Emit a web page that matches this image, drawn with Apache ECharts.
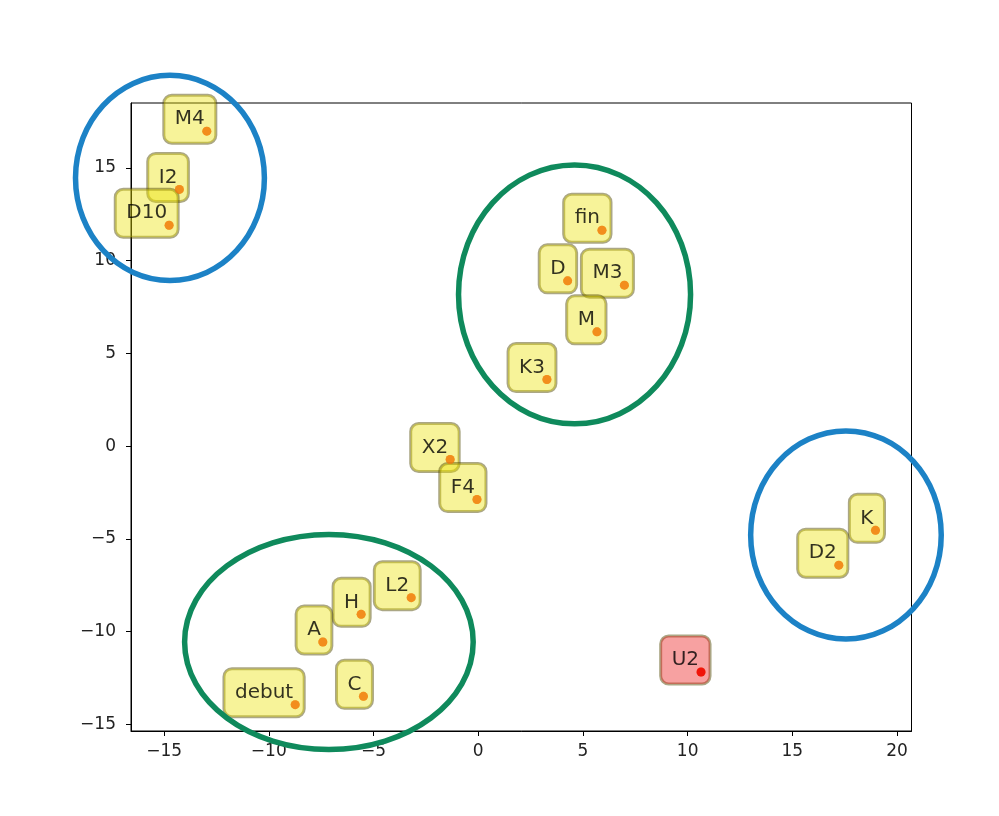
<!DOCTYPE html>
<html>
<head>
<meta charset="utf-8">
<script src="https://cdn.jsdelivr.net/npm/echarts@6/dist/echarts.min.js"></script>
<style>html,body{margin:0;padding:0;background:#fff;}#c{width:999px;height:816px;}</style>
</head>
<body>
<div id="c"></div>
<script>
const names = ['M4','I2','D10','fin','D','M3','M','K3','X2','F4','L2','H','A','C','debut','K','D2','U2'];
const xs = [-12.96,-14.27,-14.76,5.91,4.27,6.98,5.67,3.28,-1.34,-0.06,-3.20,-5.59,-7.42,-5.48,-8.74,18.97,17.22,10.64];
const ys = [16.98,13.84,11.91,11.64,8.91,8.68,6.16,3.59,-0.72,-2.88,-8.17,-9.07,-10.56,-13.49,-13.94,-4.54,-6.42,-12.18];
const highlighted = ['U2'];
const xTicks = [-15,-10,-5,0,5,10,15,20];
const yTicks = [-15,-10,-5,0,5,10,15];
const ellipseCx = [-14.72, 4.60, -7.13, 17.56];
const ellipseCy = [14.46, 8.18, -10.56, -4.79];
const ellipseRx = [4.51, 5.54, 6.89, 4.55];
const ellipseRy = [5.53, 6.98, 5.80, 5.61];
const ellipseColors = ['#1c82c6', '#0f8a5c', '#0f8a5c', '#1c82c6'];

const chart = echarts.init(document.getElementById('c'), null, {renderer: 'canvas'});
const fmt = v => String(v).replace('-', '\u2212');
const FONT = 'DejaVu Sans';

const labelData = names.map((n, i) => {
  const hi = highlighted.includes(n);
  return {
    value: [xs[i], ys[i]],
    name: n,
    label: hi ? {backgroundColor: 'rgba(235,20,20,0.5)'} : undefined
  };
});
const dotData = names.map((n, i) => ({
  value: [xs[i], ys[i]],
  itemStyle: {color: highlighted.includes(n) ? '#f00000' : '#f2821a'}
}));

const axisCommon = {
  type: 'value',
  splitLine: {show: false},
  axisLine: {show: true, onZero: false, lineStyle: {color: '#000', width: 1}},
  axisTick: {show: true, length: 5, lineStyle: {color: '#000'}},
  axisLabel: {color: '#222', fontFamily: FONT, fontSize: 17, formatter: fmt}
};

chart.setOption({
  animation: false,
  backgroundColor: '#fff',
  grid: {left: 131, top: 103, right: 87.5, bottom: 85, show: true, borderColor: '#000', borderWidth: 1, backgroundColor: 'transparent'},
  xAxis: Object.assign({}, axisCommon, {
    min: -16.58, max: 20.69,
    axisTick: Object.assign({}, axisCommon.axisTick, {customValues: xTicks}),
    axisLabel: Object.assign({}, axisCommon.axisLabel, {customValues: xTicks, margin: 12})
  }),
  yAxis: Object.assign({}, axisCommon, {
    min: -15.36, max: 18.5,
    axisTick: Object.assign({}, axisCommon.axisTick, {customValues: yTicks}),
    axisLabel: Object.assign({}, axisCommon.axisLabel, {customValues: yTicks, margin: 15})
  }),
  series: [
    {
      type: 'scatter',
      z: 2,
      symbolSize: 9,
      itemStyle: {color: '#f2821a'},
      data: labelData,
      label: {
        show: true,
        formatter: p => p.name,
        position: [4.5 + 9, 4.5 + 12],
        align: 'right',
        verticalAlign: 'bottom',
        fontFamily: FONT,
        fontSize: 20,
        lineHeight: 24,
        color: '#000',
        backgroundColor: 'rgba(236,226,0,0.5)',
        borderColor: 'rgba(80,72,0,0.6)',
        borderWidth: 1.5,
        borderRadius: 8,
        padding: [12, 11, 12, 11]
      },
      labelLayout: {hideOverlap: false},
      emphasis: {disabled: true}
    },
    {
      type: 'scatter',
      z: 5,
      symbolSize: 9,
      data: dotData,
      emphasis: {disabled: true}
    }
  ]
});

function toPx(x, y) { return chart.convertToPixel({gridIndex: 0}, [x, y]); }
const graphics = ellipseCx.map((cx, i) => {
  const c = toPx(cx, ellipseCy[i]);
  const r = toPx(cx + ellipseRx[i], ellipseCy[i] + ellipseRy[i]);
  return {
    type: 'ellipse',
    z: 100,
    shape: {cx: c[0], cy: c[1], rx: Math.abs(r[0] - c[0]), ry: Math.abs(c[1] - r[1])},
    style: {fill: null, stroke: ellipseColors[i], lineWidth: 5.5}
  };
});
chart.setOption({graphic: graphics});
</script>
</body>
</html>
